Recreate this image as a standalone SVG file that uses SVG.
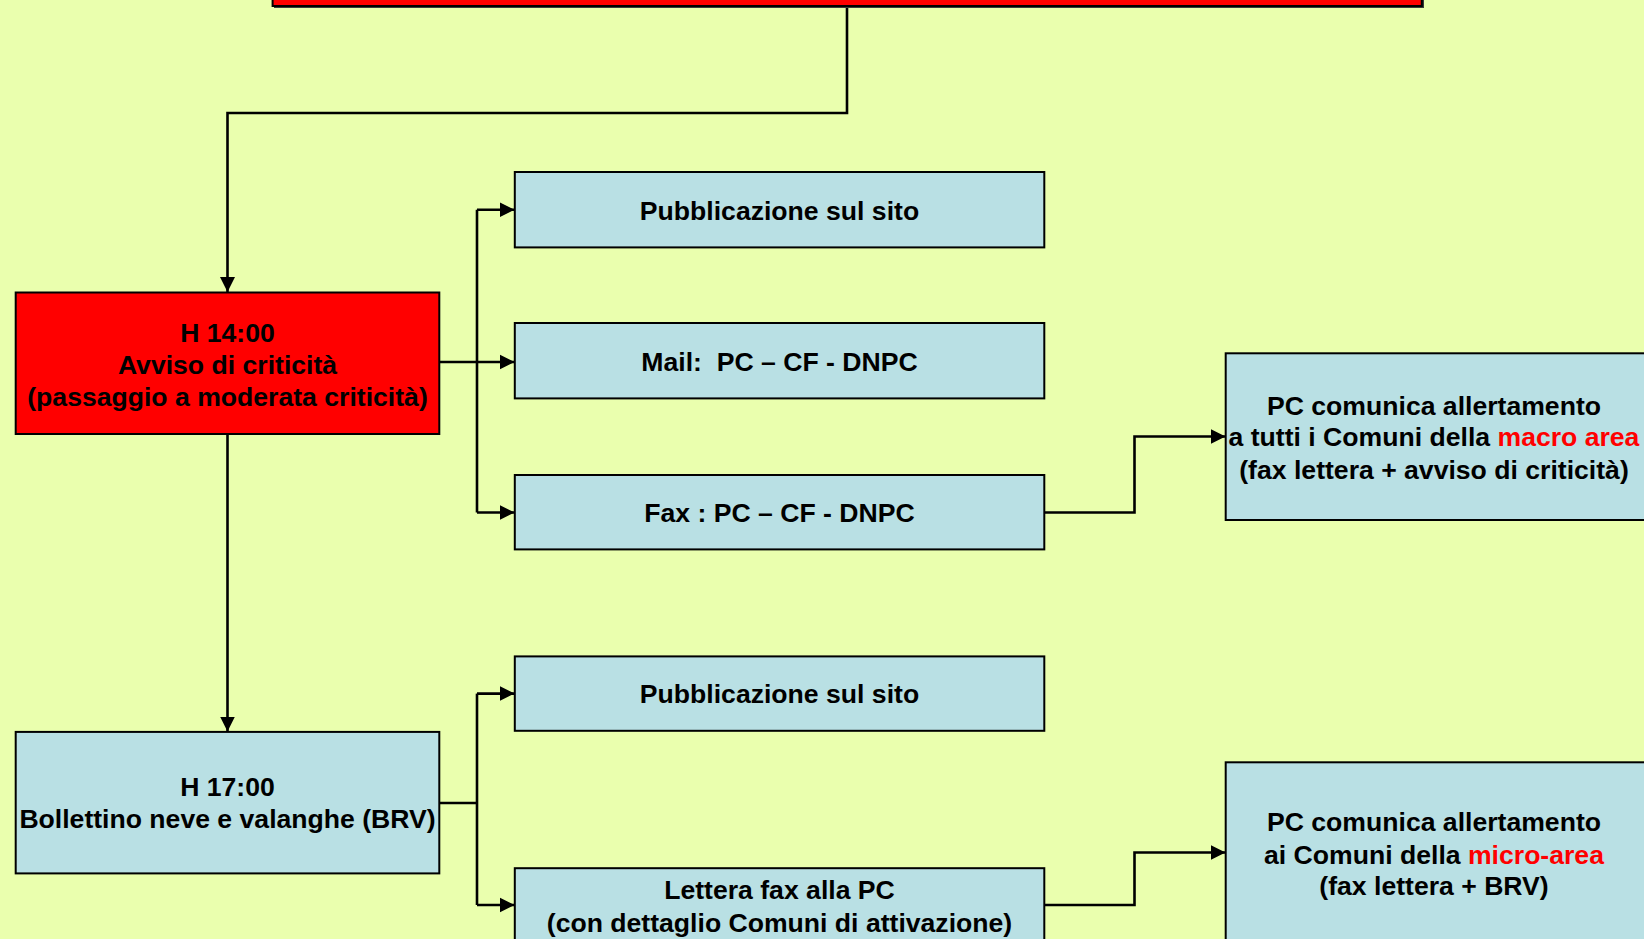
<svg xmlns="http://www.w3.org/2000/svg" width="1644" height="939" viewBox="0 0 1644 939">
<style>
.bg{fill:#EAFFAE}
.red{fill:#FF0000;stroke:#000;stroke-width:2}
.blue{fill:#B9E0E4;stroke:#000;stroke-width:2}
.t{font-family:"Liberation Sans",Arial,sans-serif;font-weight:bold;font-size:26.6px;fill:#000;text-anchor:middle}
.hl{fill:#FF0000}
.c{fill:none;stroke:#000;stroke-width:2.6}
</style>
<defs>
<marker id="ah" markerUnits="userSpaceOnUse" markerWidth="16" markerHeight="16" refX="15" refY="8" orient="auto">
<path d="M0,0.5 L15,8 L0,15.5 Z" fill="#000"/>
</marker>
</defs>
<rect class="bg" x="0" y="0" width="1644" height="939"/>

<g id="connectors">
<path class="c" d="M847,6 V113 H227.5 V292" marker-end="url(#ah)"/>
<path class="c" d="M227.5,434 V731.5" marker-end="url(#ah)"/>
<path class="c" d="M439.3,362 H477"/>
<path class="c" d="M477,209.7 V512.5"/>
<path class="c" d="M477,209.7 H514.5" marker-end="url(#ah)"/>
<path class="c" d="M477,362 H514.5" marker-end="url(#ah)"/>
<path class="c" d="M477,512.5 H514.5" marker-end="url(#ah)"/>
<path class="c" d="M439.3,803 H477"/>
<path class="c" d="M477,693.6 V905"/>
<path class="c" d="M477,693.6 H514.5" marker-end="url(#ah)"/>
<path class="c" d="M477,905 H514.5" marker-end="url(#ah)"/>
<path class="c" d="M1044.3,512.5 H1134.5 V436.5 H1225.5" marker-end="url(#ah)"/>
<path class="c" d="M1044.3,905 H1134.5 V852.5 H1225.5" marker-end="url(#ah)"/>
</g>

<g id="top">
<rect x="274" y="-10" width="1150" height="18" fill="#3a3a3a"/>
<rect class="red" x="272.6" y="-10" width="1149.2" height="16"/>
</g>

<g id="h14">
<rect class="red" x="15.7" y="292.5" width="423.6" height="141.5"/>
<text class="t" x="227.5" y="342.4">H 14:00</text>
<text class="t" x="227.5" y="374">Avviso di criticità</text>
<text class="t" x="227.5" y="406.4">(passaggio a moderata criticità)</text>
</g>

<g id="h17">
<rect class="blue" x="15.7" y="731.9" width="423.6" height="141.5"/>
<text class="t" x="227.5" y="796.4">H 17:00</text>
<text class="t" x="227.5" y="828">Bollettino neve e valanghe (BRV)</text>
</g>

<g id="pub1">
<rect class="blue" x="514.8" y="172" width="529.5" height="75.4"/>
<text class="t" x="779.5" y="219.7">Pubblicazione sul sito</text>
</g>

<g id="mail">
<rect class="blue" x="514.8" y="323" width="529.5" height="75.4"/>
<text class="t" x="779.5" y="370.7" xml:space="preserve">Mail:  PC – CF - DNPC</text>
</g>

<g id="fax">
<rect class="blue" x="514.8" y="475" width="529.5" height="74.4"/>
<text class="t" x="779.5" y="521.7">Fax : PC – CF - DNPC</text>
</g>

<g id="pub2">
<rect class="blue" x="514.8" y="656.4" width="529.5" height="74.4"/>
<text class="t" x="779.5" y="703">Pubblicazione sul sito</text>
</g>

<g id="lettera">
<rect class="blue" x="514.8" y="868.2" width="529.5" height="100"/>
<text class="t" x="779.5" y="899.2">Lettera fax alla PC</text>
<text class="t" x="779.5" y="931.7">(con dettaglio Comuni di attivazione)</text>
</g>

<g id="macro">
<rect class="blue" x="1225.7" y="353.3" width="430" height="166.7"/>
<text class="t" x="1434" y="414.8">PC comunica allertamento</text>
<text class="t" x="1434" y="446.2">a tutti i Comuni della <tspan class="hl">macro area</tspan></text>
<text class="t" x="1434" y="478.7">(fax lettera + avviso di criticità)</text>
</g>

<g id="micro">
<rect class="blue" x="1225.7" y="762.3" width="430" height="200"/>
<text class="t" x="1434" y="831">PC comunica allertamento</text>
<text class="t" x="1434" y="863.5">ai Comuni della <tspan class="hl">micro-area</tspan></text>
<text class="t" x="1434" y="895">(fax lettera + BRV)</text>
</g>
</svg>
